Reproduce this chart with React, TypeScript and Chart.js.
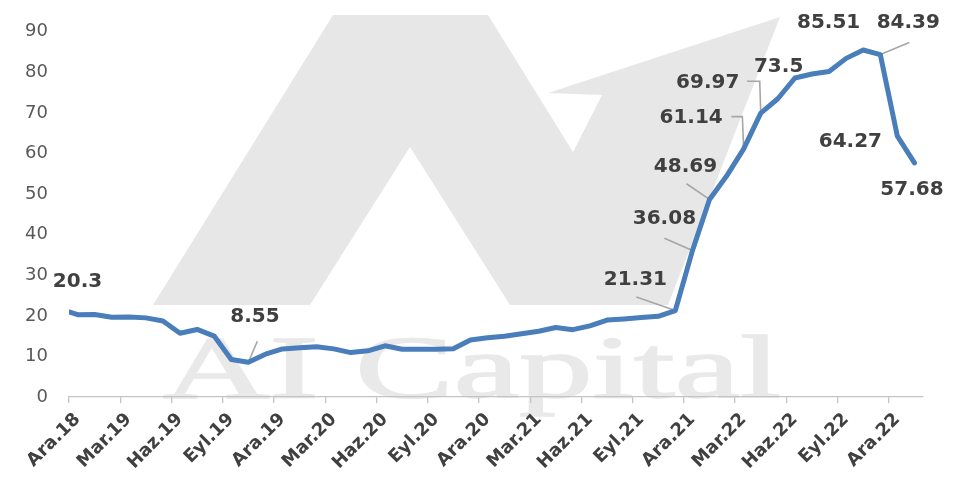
import React, { useEffect, useRef } from 'react';
import { Chart, registerables } from 'chart.js';

Chart.register(...registerables);

// Monthly categories (first one lies just outside the visible axis, as in the source)
const categories: string[] = [
  'Kas.18', 'Ara.18', 'Oca.19', 'Şub.19', 'Mar.19', 'Nis.19', 'May.19', 'Haz.19', 'Tem.19', 'Ağu.19', 'Eyl.19', 'Eki.19', 'Kas.19',
  'Ara.19', 'Oca.20', 'Şub.20', 'Mar.20', 'Nis.20', 'May.20', 'Haz.20', 'Tem.20', 'Ağu.20', 'Eyl.20', 'Eki.20', 'Kas.20',
  'Ara.20', 'Oca.21', 'Şub.21', 'Mar.21', 'Nis.21', 'May.21', 'Haz.21', 'Tem.21', 'Ağu.21', 'Eyl.21', 'Eki.21', 'Kas.21',
  'Ara.21', 'Oca.22', 'Şub.22', 'Mar.22', 'Nis.22', 'May.22', 'Haz.22', 'Tem.22', 'Ağu.22', 'Eyl.22', 'Eki.22', 'Kas.22',
  'Ara.22', 'Oca.23',
];

const values: number[] = [
  21.62, 20.3, 20.35, 19.67, 19.71, 19.5, 18.71, 15.72, 16.65, 15.01, 9.26, 8.55, 10.56,
  11.84, 12.15, 12.37, 11.86, 10.94, 11.39, 12.62, 11.76, 11.77, 11.75, 11.89, 14.03,
  14.6, 14.97, 15.61, 16.19, 17.14, 16.59, 17.53, 18.95, 19.25, 19.58, 19.89, 21.31,
  36.08, 48.69, 54.44, 61.14, 69.97, 73.5, 78.62, 79.6, 80.21, 83.45, 85.51, 84.39,
  64.27, 57.68,
];

const firstVisible = 'Ara.18';
const yTicks: number[] = [0, 10, 20, 30, 40, 50, 60, 70, 80, 90];

// Which points carry a value label (indices into values)
const labelledIdx: number[] = [1, 11, 36, 37, 38, 40, 41, 42, 47, 48, 49, 50];
// Label placement relative to its point (style only)
const labelOffsets: [number, number][] = [
  [0, -33], [6.6, -46], [-40, -31], [-28, -32], [-24, -33], [-52.5, -31],
  [-53, -30.6], [0.8, -32], [-34.6, -27], [28, -32], [-47, 5.5], [-2.5, 27],
];
const leaderPaths: ([number, number][] | null)[] = [
  null, [[9, -21]], [[-39, -13.6]], [[-28, -12.4]], [[-23, -15.7]], [[-1.3, -32.3], [-12.3, -32.3]],
  [[-1, -31.8], [-13.8, -31.8]], null, null, [[29, -12]], null, null,
];

const WM_COLOR = '#e7e7e7';
const WM_TEXT_COLOR = '#e9e9e9';
const WM_SHAPE: [number, number][] = [
  [153, 305], [333, 15], [488, 15], [573, 152], [602, 95], [548, 93], [780, 17],
  [668, 305], [510, 305], [410, 147], [310, 305],
];

const watermarkPlugin = {
  id: 'watermark',
  beforeDraw(chart: any) {
    const ctx = chart.ctx;
    ctx.save();
    ctx.fillStyle = WM_COLOR;
    ctx.beginPath();
    WM_SHAPE.forEach(([x, y], k) => (k ? ctx.lineTo(x, y) : ctx.moveTo(x, y)));
    ctx.closePath();
    ctx.fill();
    ctx.fillStyle = WM_TEXT_COLOR;
    ctx.strokeStyle = WM_TEXT_COLOR;
    ctx.lineWidth = 1.5;
    ctx.font = '88px "Liberation Serif"';
    ctx.textBaseline = 'alphabetic';
    ctx.textAlign = 'left';
    const txt = 'AI Capital';
    const w = ctx.measureText(txt).width;
    ctx.translate(163, 397);
    ctx.scale(618 / w, 1);
    ctx.fillText(txt, 0, 0);
    ctx.strokeText(txt, 0, 0);
    ctx.restore();
  },
};

const labelPlugin = {
  id: 'valueLabels',
  beforeDatasetsDraw(chart: any) {
    const ctx = chart.ctx;
    const meta = chart.getDatasetMeta(0);
    ctx.save();
    ctx.strokeStyle = '#a6a6a6';
    ctx.lineWidth = 1.6;
    labelledIdx.forEach((idx, k) => {
      const path = leaderPaths[k];
      if (!path) return;
      const pt = meta.data[idx];
      ctx.beginPath();
      ctx.moveTo(pt.x, pt.y);
      path.forEach(([dx, dy]) => ctx.lineTo(pt.x + dx, pt.y + dy));
      ctx.stroke();
    });
    ctx.restore();
  },
  afterDatasetsDraw(chart: any) {
    const ctx = chart.ctx;
    const meta = chart.getDatasetMeta(0);
    ctx.save();
    ctx.font = 'bold 20px "DejaVu Sans"';
    ctx.fillStyle = '#404040';
    ctx.textAlign = 'center';
    ctx.textBaseline = 'middle';
    labelledIdx.forEach((idx, k) => {
      const pt = meta.data[idx];
      const [dx, dy] = labelOffsets[k];
      ctx.fillText(String(values[idx]), pt.x + dx, pt.y + dy);
    });
    ctx.restore();
  },
};

export default function App() {
  const ref = useRef<HTMLCanvasElement | null>(null);
  useEffect(() => {
    if (!ref.current) return;
    Chart.defaults.font.family = '"DejaVu Sans"';
    const chart = new Chart(ref.current, {
      type: 'line',
      data: {
        labels: categories,
        datasets: [
          {
            data: values,
            borderColor: '#4a7ebb',
            borderWidth: 5,
            pointRadius: 0,
            tension: 0,
            borderJoinStyle: 'round',
            borderCapStyle: 'round',
            fill: false,
            clip: 0,
          } as any,
        ],
      },
      options: {
        animation: false,
        responsive: true,
        maintainAspectRatio: false,
        layout: { padding: { top: 28, right: 46, bottom: 0, left: 0 } },
        plugins: { legend: { display: false }, tooltip: { enabled: false } },
        scales: {
          x: {
            type: 'category',
            min: firstVisible,
            offset: true,
            border: { display: true, color: '#c4c4c4', width: 1.3 },
            grid: {
              offset: true,
              drawOnChartArea: false,
              drawTicks: true,
              tickLength: 6,
              lineWidth: 1.3,
              color: (c: any) => (typeof c.index === 'number' && c.index % 3 === 0 ? '#c4c4c4' : 'rgba(0,0,0,0)'),
            },
            ticks: {
              autoSkip: false,
              minRotation: 45,
              maxRotation: 45,
              padding: 6,
              color: '#404040',
              font: { family: '"DejaVu Sans"', size: 18, weight: 'bold' },
              callback: (_v: any, i: number) => (i % 3 === 0 ? categories[categories.indexOf(firstVisible) + i] : ''),
            },
            afterFit: (s: any) => {
              s.height = 87;
            },
          },
          y: {
            min: 0,
            max: 90,
            afterBuildTicks: (s: any) => {
              s.ticks = yTicks.map((v) => ({ value: v }));
            },
            border: { display: false },
            grid: { display: false, drawTicks: false },
            ticks: {
              padding: 21,
              color: '#595959',
              font: { family: '"DejaVu Sans"', size: 18 },
            },
            afterFit: (s: any) => {
              s.width = 69;
            },
          },
        },
      },
      plugins: [watermarkPlugin, labelPlugin],
    });
    return () => chart.destroy();
  }, []);
  return (
    <div style={{ position: 'fixed', left: 0, top: 0, width: 969, height: 484, background: '#fff' }}>
      <canvas ref={ref} />
    </div>
  );
}
